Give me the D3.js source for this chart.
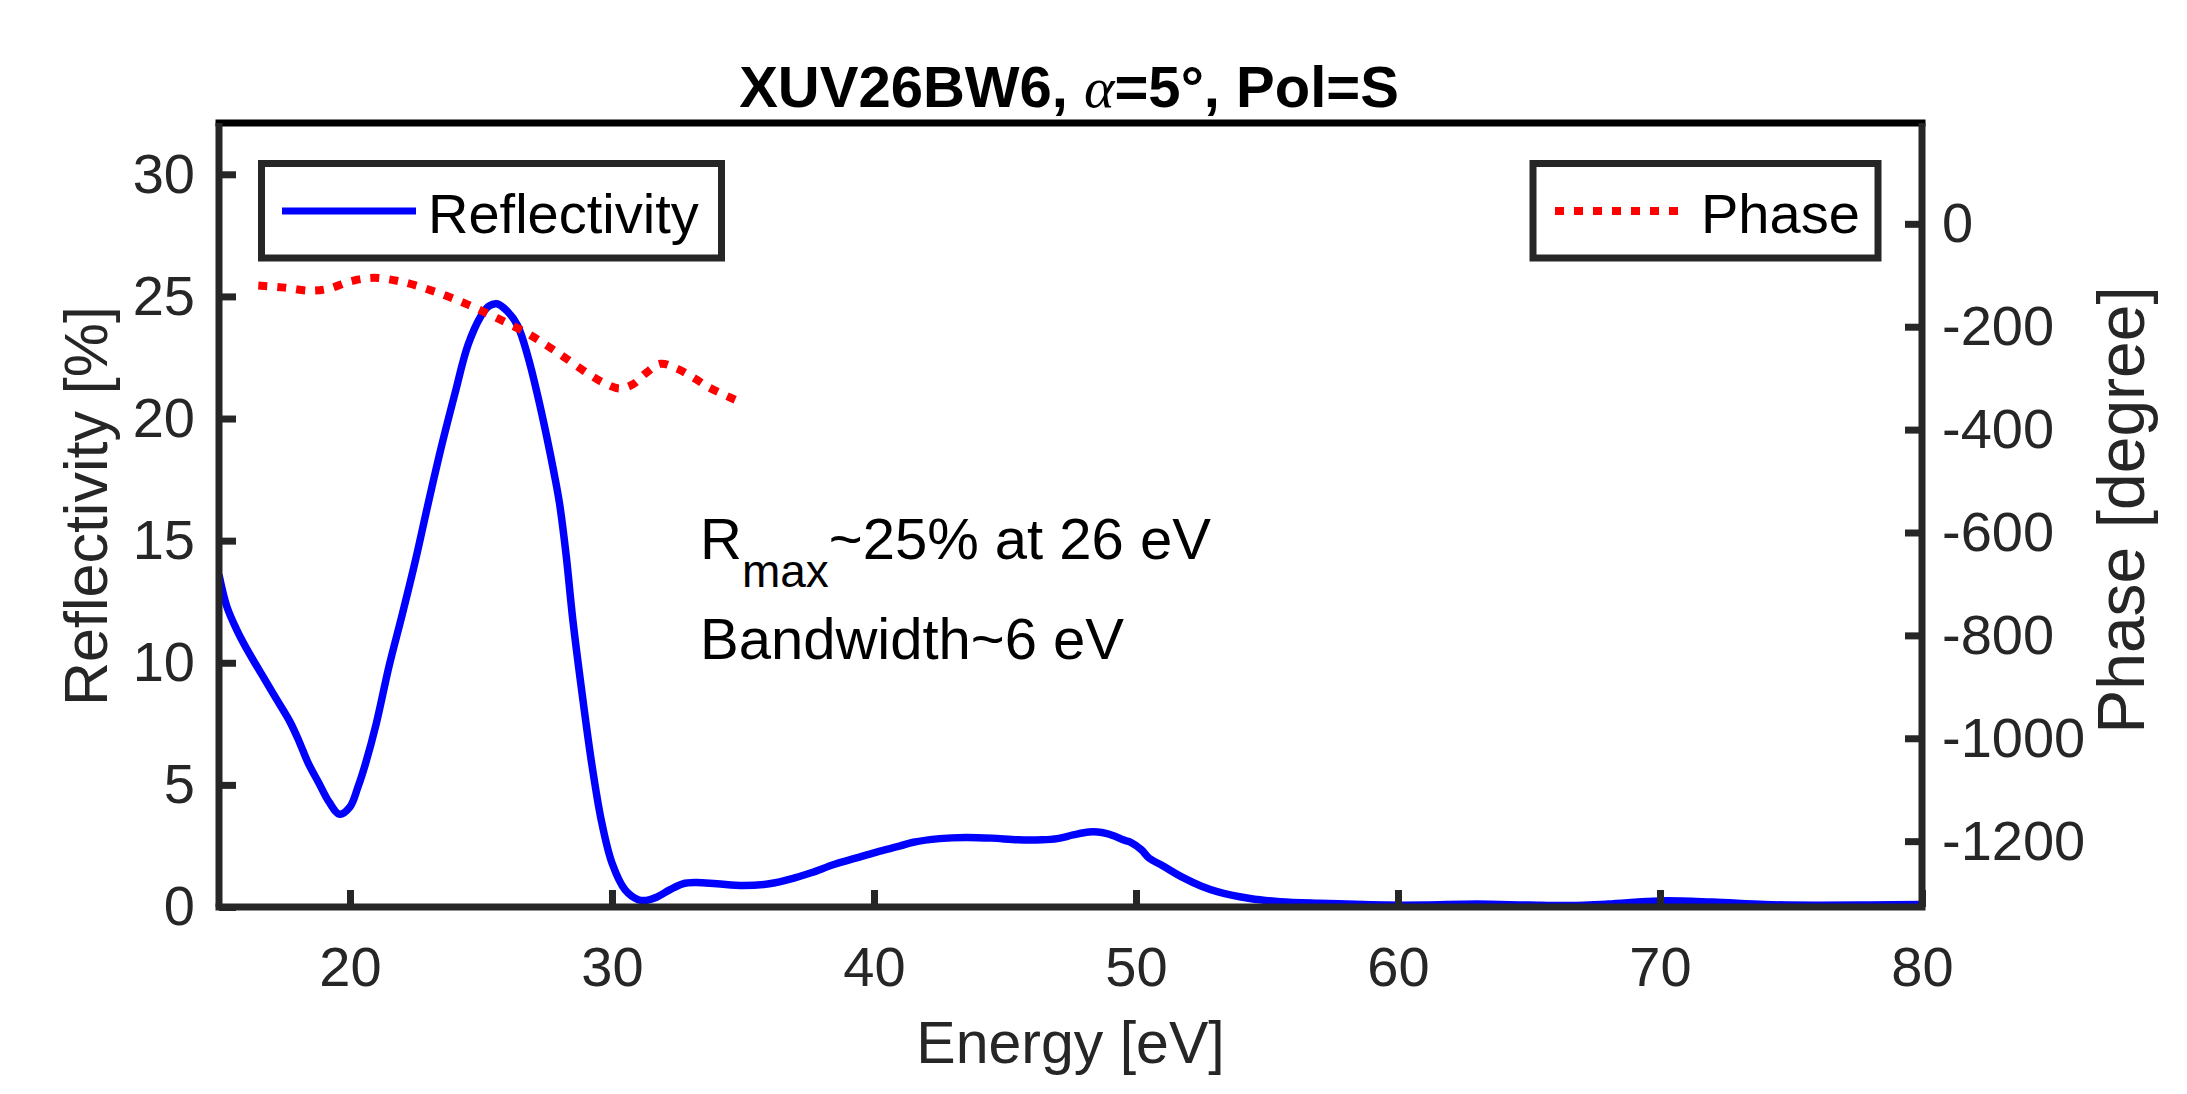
<!DOCTYPE html>
<html>
<head>
<meta charset="utf-8">
<script src="https://cdn.jsdelivr.net/npm/d3@7"></script>
<style>
  html, body { margin: 0; padding: 0; background: #fff; }
  svg { display: block; }
  text { font-family: "Liberation Sans", Arial, Helvetica, sans-serif; }
</style>
</head>
<body>
<svg id="chart" width="2187" height="1094"></svg>
<script>
// ---------------- Data ----------------
const reflEnergy = [15.0,15.3,15.7,16.2,16.7,17.2,17.7,18.05,18.4,18.8,19.2,19.6,20.0,20.3,20.6,21.0,21.5,22.0,22.5,23.0,23.5,24.0,24.5,25.0,25.3,25.6,26.0,26.4,26.8,27.15,27.5,27.8,28.0,28.25,28.5,28.9,29.25,29.6,30.0,30.5,31.0,31.3,31.7,32.2,32.7,33.2,34.0,35.0,36.0,37.0,37.6,38.5,39.3,40.1,41.0,41.5,42.5,43.5,44.5,45.5,46.4,47.0,47.6,48.2,48.7,49.2,49.5,49.8,50.2,50.5,51.0,51.8,52.5,53.1,54.35,55.5,57.0,59.5,61.0,63.0,65.0,66.5,68.0,70.0,72.0,74.0,76.0,78.0,80.0];
const reflectivity = [13.6,12.3,11.3,10.3,9.4,8.5,7.6,6.8,5.9,5.1,4.3,3.8,4.1,4.9,5.9,7.5,9.9,12.0,14.2,16.6,18.9,21.0,23.0,24.2,24.6,24.7,24.4,23.8,22.5,21.0,19.3,17.7,16.5,14.4,11.8,8.4,5.7,3.5,1.8,0.7,0.3,0.27,0.4,0.7,0.95,1.0,0.95,0.88,0.95,1.2,1.4,1.75,2.0,2.25,2.5,2.65,2.8,2.85,2.82,2.75,2.75,2.8,2.95,3.07,3.05,2.9,2.75,2.65,2.35,2.0,1.7,1.2,0.85,0.63,0.35,0.22,0.15,0.08,0.08,0.12,0.08,0.06,0.12,0.25,0.2,0.1,0.07,0.08,0.1];

const phaseEnergy = [16.5,17.5,18.5,19.2,20.0,20.9,22.0,23.3,24.5,25.6,26.7,27.5,28.2,29.2,29.8,30.3,30.8,31.3,31.85,32.5,33.2,33.7,34.7];
const phase = [-120,-124,-130,-126,-112,-105,-113,-133,-157,-183,-211,-236,-260,-295,-312,-320,-312,-290,-272,-282,-302,-318,-342];

const xTicks = [20,30,40,50,60,70,80];
const yLeftTicks = [0,5,10,15,20,25,30];
const yRightTicks = [0,-200,-400,-600,-800,-1000,-1200];

const titleParts = ["XUV26BW6, ", "\u03B1", "=5\u00B0, Pol=S"];
const legendLabels = ["Reflectivity", "Phase"];
const xLabel = "Energy [eV]";
const yLeftLabel = "Reflectivity [%]";
const yRightLabel = "Phase [degree]";

// ---------------- Layout ----------------
const L = 219, R = 1922, T = 123, B = 907;
const axisColor = "#262626";
const fs = 56;

const svg = d3.select("#chart");
svg.append("rect").attr("width", 2187).attr("height", 1094).attr("fill", "#fff");

const x = d3.scaleLinear().domain([15, 80]).range([L, R]);
const yL = d3.scaleLinear().domain([0, 32.1]).range([B, T]);
const yR = d3.scaleLinear().domain([-1328, 196]).range([B, T]);

svg.append("clipPath").attr("id", "plotclip")
  .append("rect").attr("x", L).attr("y", T).attr("width", R - L).attr("height", B - T);

// ---------------- Lines ----------------
const reflData = reflEnergy.map((e, i) => [e, reflectivity[i]]);
const phaseData = phaseEnergy.map((e, i) => [e, phase[i]]);

const lineR = d3.line().x(d => x(d[0])).y(d => yL(d[1])).curve(d3.curveCatmullRom.alpha(0.5));
const lineP = d3.line().x(d => x(d[0])).y(d => yR(d[1])).curve(d3.curveCatmullRom.alpha(0.5));

const plotG = svg.append("g").attr("clip-path", "url(#plotclip)");
plotG.append("path").datum(reflData).attr("d", lineR)
  .attr("fill", "none").attr("stroke", "#0000FF").attr("stroke-width", 7.5)
  .attr("stroke-linejoin", "round");
plotG.append("path").datum(phaseData).attr("d", lineP)
  .attr("fill", "none").attr("stroke", "#FF0000").attr("stroke-width", 8)
  .attr("stroke-dasharray", "9,10").attr("stroke-linecap", "butt");

// ---------------- Axes ----------------
function styleAxis(g) {
  g.select(".domain").remove();
  g.selectAll(".tick line").attr("stroke", axisColor).attr("stroke-width", 7);
  g.selectAll(".tick text").attr("fill", axisColor).attr("font-size", fs)
    .attr("font-family", "'Liberation Sans', Arial, Helvetica, sans-serif");
}

const xAxis = d3.axisBottom(x).tickValues(xTicks).tickSizeInner(-17).tickSizeOuter(0)
  .tickPadding(39).tickFormat(d => String(d));
svg.append("g").attr("transform", `translate(0,${B})`).call(xAxis).call(styleAxis);

const yAxisL = d3.axisLeft(yL).tickValues(yLeftTicks).tickSizeInner(-17).tickSizeOuter(0)
  .tickPadding(24).tickFormat(d => String(d));
svg.append("g").attr("transform", `translate(${L},0)`).call(yAxisL).call(styleAxis);

const yAxisR = d3.axisRight(yR).tickValues(yRightTicks).tickSizeInner(-17).tickSizeOuter(0)
  .tickPadding(20).tickFormat(d => String(d));
svg.append("g").attr("transform", `translate(${R},0)`).call(yAxisR).call(styleAxis);

// frame
svg.append("line").attr("x1", L - 3.5).attr("x2", R + 3.5).attr("y1", T).attr("y2", T)
  .attr("stroke", "#000").attr("stroke-width", 7);
svg.append("line").attr("x1", L - 3.5).attr("x2", R + 3.5).attr("y1", B).attr("y2", B)
  .attr("stroke", axisColor).attr("stroke-width", 7);
svg.append("line").attr("x1", L).attr("x2", L).attr("y1", T).attr("y2", B)
  .attr("stroke", axisColor).attr("stroke-width", 7);
svg.append("line").attr("x1", R).attr("x2", R).attr("y1", T).attr("y2", B)
  .attr("stroke", axisColor).attr("stroke-width", 7);

// ---------------- Labels ----------------
svg.append("text").attr("x", (L + R) / 2).attr("y", 1063).attr("text-anchor", "middle")
  .attr("font-size", 59).attr("fill", axisColor).text(xLabel);

svg.append("text").attr("transform", `translate(107,506) rotate(-90)`)
  .attr("text-anchor", "middle").attr("font-size", 61).attr("fill", axisColor).text(yLeftLabel);

svg.append("text").attr("transform", `translate(2144,510) rotate(-90)`)
  .attr("text-anchor", "middle").attr("font-size", 66).attr("fill", axisColor).text(yRightLabel);

// title
const title = svg.append("text").attr("x", 1069).attr("y", 107).attr("text-anchor", "middle")
  .attr("font-size", 58).attr("font-weight", "bold").attr("fill", "#000");
title.append("tspan").text(titleParts[0]);
title.append("tspan").attr("font-family", "'Liberation Serif', 'Times New Roman', serif")
  .attr("font-style", "italic").attr("font-weight", "normal").text(titleParts[1]);
title.append("tspan").text(titleParts[2]);

// annotation
const ann = svg.append("text").attr("x", 700).attr("y", 559).attr("font-size", 58).attr("fill", "#000");
ann.append("tspan").text("R");
ann.append("tspan").attr("dy", 28).attr("font-size", 46).text("max");
ann.append("tspan").attr("dy", -28).text("~25% at 26 eV");
svg.append("text").attr("x", 700).attr("y", 659).attr("font-size", 58).attr("fill", "#000")
  .text("Bandwidth~6 eV");

// ---------------- Legends ----------------
svg.append("rect").attr("x", 261.5).attr("y", 163.5).attr("width", 460).attr("height", 94.5)
  .attr("fill", "#fff").attr("stroke", axisColor).attr("stroke-width", 7);
svg.append("line").attr("x1", 282).attr("x2", 416).attr("y1", 211).attr("y2", 211)
  .attr("stroke", "#0000FF").attr("stroke-width", 7);
svg.append("text").attr("x", 428).attr("y", 233).attr("font-size", fs).attr("fill", "#000")
  .text(legendLabels[0]);

svg.append("rect").attr("x", 1533).attr("y", 163.5).attr("width", 345).attr("height", 94.5)
  .attr("fill", "#fff").attr("stroke", axisColor).attr("stroke-width", 7);
svg.append("line").attr("x1", 1555).attr("x2", 1683).attr("y1", 211).attr("y2", 211)
  .attr("stroke", "#FF0000").attr("stroke-width", 8).attr("stroke-dasharray", "9,10");
svg.append("text").attr("x", 1701).attr("y", 233).attr("font-size", fs).attr("fill", "#000")
  .text(legendLabels[1]);
</script>
</body>
</html>
